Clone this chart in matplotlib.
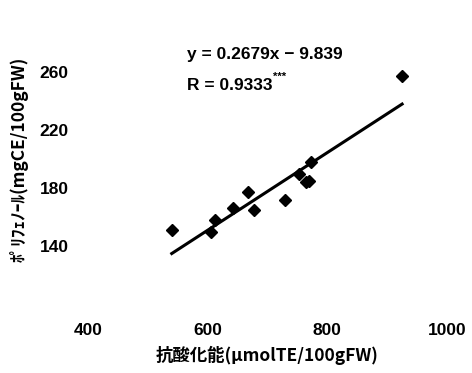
import matplotlib.pyplot as plt
import numpy as np

plt.rcParams['font.family'] = ['Liberation Sans', 'Noto Sans CJK JP', 'DejaVu Sans']

# 抗酸化能 と ポリフェノール の値
antioxidant = [540, 605, 612, 642, 668, 677, 730, 752, 765, 770, 773, 925]
polyphenol = [151, 150, 158, 166, 177, 165, 172, 190, 184, 185, 198, 257]
slope = 0.2679
intercept = -9.839
r_value = 0.9333
x_ticks = [400, 600, 800, 1000]
y_ticks = [140, 180, 220, 260]

fig = plt.figure(figsize=(4.72, 3.73), dpi=100)
ax = fig.add_axes([0.1864, 0.185, 0.7606, 0.777])

ax.plot(antioxidant, polyphenol, 'D', color='black', markersize=6)
xs = np.array([min(antioxidant), max(antioxidant)])
ax.plot(xs, slope * xs + intercept, color='black', linewidth=2.2)

ax.set_xlim(400, 1000)
ax.set_ylim(100, 300)
ax.set_xticks(x_ticks)
ax.set_yticks(y_ticks)
for s in ax.spines.values():
    s.set_visible(False)
ax.tick_params(length=0, labelsize=12.5, pad=14)
for t in ax.get_xticklabels() + ax.get_yticklabels():
    t.set_fontweight('bold')

ax.set_xlabel('抗酸化能(μmolTE/100gFW)', fontsize=12.5, fontweight='bold',
              family=['Noto Sans CJK JP', 'DejaVu Sans'], labelpad=5)
ax.set_ylabel('ﾎﾟﾘﾌｪﾉｰﾙ(mgCE/100gFW)', fontsize=12.5, fontweight='bold',
              family=['Noto Sans CJK JP', 'DejaVu Sans'], labelpad=8)

ax.text(0.276, 0.86, f'y = {slope}x − {abs(intercept)}', transform=ax.transAxes,
        fontsize=12.5, fontweight='bold', va='center')
r_txt = ax.text(0.276, 0.755, f'R = {r_value}', transform=ax.transAxes,
                fontsize=12.5, fontweight='bold', va='center')
ax.annotate('***', xy=(1, 0.75), xycoords=r_txt, fontsize=8, fontweight='bold',
            va='bottom', ha='left')

fig.savefig('out.png', dpi=100)
